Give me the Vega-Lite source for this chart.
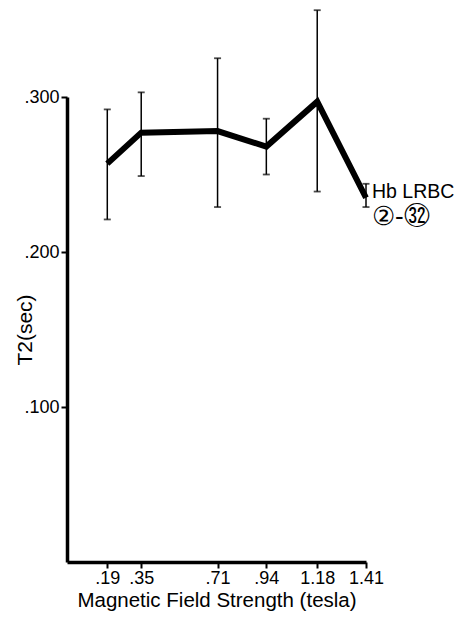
{
  "$schema": "https://vega.github.io/schema/vega-lite/v6.json",
  "autosize": "none",
  "padding": {"left": 67, "top": 97, "right": 91, "bottom": 55},
  "width": 299,
  "height": 465,
  "background": "white",
  "config": {
    "font": "Liberation Sans",
    "view": {"stroke": null}
  },
  "data": {
    "values": [
      {"field": 0.19, "t2": 0.257, "lo": 0.221, "hi": 0.292},
      {"field": 0.35, "t2": 0.277, "lo": 0.249, "hi": 0.303},
      {"field": 0.71, "t2": 0.278, "lo": 0.229, "hi": 0.325},
      {"field": 0.94, "t2": 0.268, "lo": 0.250, "hi": 0.286},
      {"field": 1.18, "t2": 0.297, "lo": 0.239, "hi": 0.356},
      {"field": 1.41, "t2": 0.235, "lo": 0.229, "hi": 0.244}
    ]
  },
  "encoding": {
    "x": {
      "field": "field",
      "type": "quantitative",
      "scale": {"domain": [0, 1.41], "nice": false, "zero": true},
      "axis": {
        "title": "Magnetic Field Strength (tesla)",
        "values": [0.19, 0.35, 0.71, 0.94, 1.18, 1.41],
        "labelExpr": "datum.value < 1 ? substring(format(datum.value, '.2f'), 1) : format(datum.value, '.2f')",
        "grid": false,
        "domainColor": "black",
        "domainWidth": 3.5,
        "tickColor": "black",
        "tickWidth": 2,
        "tickSize": 6,
        "labelFont": "Liberation Sans",
        "labelFontSize": 18,
        "labelColor": "black",
        "labelPadding": 1,
        "labelFlush": false,
        "titleFont": "Liberation Sans",
        "titleFontSize": 20.5,
        "titleFontWeight": "normal",
        "titleColor": "black",
        "titlePadding": 3
      }
    },
    "y": {
      "field": "t2",
      "type": "quantitative",
      "scale": {"domain": [0, 0.3], "nice": false},
      "axis": {
        "title": "T2(sec)",
        "values": [0.1, 0.2, 0.3],
        "labelExpr": "substring(format(datum.value, '.3f'), 1)",
        "grid": false,
        "domainColor": "black",
        "domainWidth": 3.5,
        "tickColor": "black",
        "tickWidth": 2,
        "tickSize": 6,
        "labelFont": "Liberation Sans",
        "labelFontSize": 18,
        "labelColor": "black",
        "labelPadding": 2,
        "labelFlush": false,
        "titleFont": "Liberation Sans",
        "titleFontSize": 21,
        "titleFontWeight": "normal",
        "titleColor": "black",
        "titlePadding": -12
      }
    }
  },
  "layer": [
    {
      "mark": {"type": "rule", "color": "black", "strokeWidth": 1.5},
      "encoding": {
        "y": {"field": "lo", "type": "quantitative"},
        "y2": {"field": "hi"}
      }
    },
    {
      "mark": {"type": "tick", "orient": "horizontal", "color": "black", "size": 7, "thickness": 1.8},
      "encoding": {"y": {"field": "lo", "type": "quantitative"}}
    },
    {
      "mark": {"type": "tick", "orient": "horizontal", "color": "black", "size": 7, "thickness": 1.8},
      "encoding": {"y": {"field": "hi", "type": "quantitative"}}
    },
    {
      "mark": {"type": "line", "color": "black", "strokeWidth": 6, "strokeJoin": "miter", "strokeCap": "butt"},
      "encoding": {}
    },
    {
      "transform": [{"filter": "datum.field == 1.41"}],
      "mark": {"type": "text", "align": "left", "baseline": "middle", "dx": 6, "dy": -6, "fontSize": 19.5, "color": "black", "font": "Liberation Sans"},
      "encoding": {"text": {"value": "Hb LRBC"}}
    },
    {
      "transform": [{"filter": "datum.field == 1.41"}],
      "mark": {"type": "text", "align": "left", "baseline": "middle", "dx": 6, "dy": 19, "fontSize": 26, "color": "black"},
      "encoding": {"text": {"value": "②-㉜"}}
    }
  ]
}
